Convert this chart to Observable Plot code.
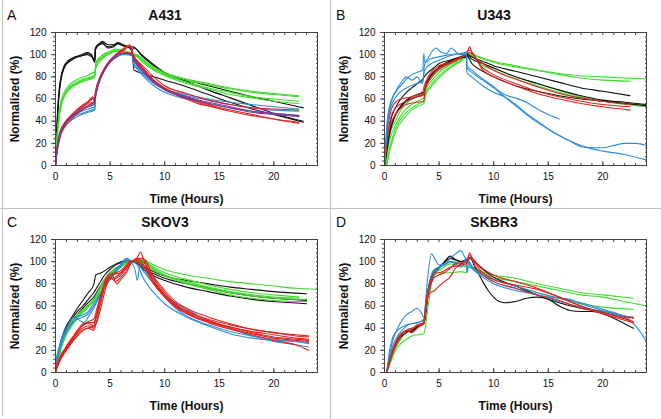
<!DOCTYPE html>
<html><head><meta charset="utf-8">
<script src="https://cdn.jsdelivr.net/npm/d3@7"></script>
<script src="https://cdn.jsdelivr.net/npm/@observablehq/plot@0.6"></script>
<style>
body{margin:0;background:#fff;font-family:"Liberation Sans",Arial,sans-serif;}
#root{position:relative;width:661px;height:419px;overflow:hidden;background:#fff;}
.cell{position:absolute;width:330px;height:209px;}
.cell svg{position:absolute;left:0;top:0;}
.title{position:absolute;left:0;top:7px;width:330px;text-align:center;font-weight:bold;font-size:14px;line-height:16px;color:#111;}
.letter{position:absolute;left:7px;top:7px;font-size:14px;line-height:16px;color:#111;}
.vl{position:absolute;background:#c4c4c4;}
g[aria-label="x-axis label"], g[aria-label="y-axis label"], g[aria-label="x-axis label"] text, g[aria-label="y-axis label"] text{font-size:12px !important;font-weight:bold !important;}
</style></head>
<body><div id="root"></div>
<script>
// ---- axis ticks ----
const xTicks = [0, 5, 10, 15, 20];
const yTicks = [0, 20, 40, 60, 80, 100, 120];
const xMinor = d3.range(0, 25, 1);
const yMinor = d3.range(0, 121, 4);
const colorHex = {black: "#111111", green: "#3fdc2c", blue: "#2a8ddd", red: "#e0231f", purple: "#85358f"};

// ---- A431 ----
const A431_black = [
 [[0,0],[0.15,40],[0.3,65],[0.5,80],[0.8,89],[1.2,93],[1.8,97],[2.4,99],[2.9,100],[3.3,98],[3.6,96],[3.65,104],[3.9,108],[4.3,110],[4.8,107],[5.3,108],[5.7,110],[6.2,108],[6.8,106],[7.0,104],[7.15,106],[8,99],[9,91],[10,84],[12,76],[14,68],[16,61],[18,54],[20,47],[22.7,40]],
 [[0,0],[0.15,35],[0.3,60],[0.5,77],[0.8,88],[1.2,94],[1.8,98],[2.4,100],[2.9,102],[3.3,100],[3.6,93],[3.65,106],[4.0,110],[4.3,112],[4.8,109],[5.3,109],[5.7,111],[6.2,109],[6.8,106],[7.0,102],[7.2,86],[8,83],[9,80],[10,77],[12,71],[14,64],[16,57],[18,51],[20,46],[22.7,39]],
 [[0,0],[0.15,38],[0.3,62],[0.5,79],[0.8,90],[1.2,95],[1.8,98],[2.4,99],[2.9,101],[3.3,99],[3.6,94],[3.65,105],[4.0,109],[4.3,111],[4.8,106],[5.3,107],[5.7,110],[6.2,108],[6.9,107],[7.1,107],[8,98],[9,90],[10,83],[12,77],[14,72],[16,67],[18,62],[20,58],[22.7,52]]
];
const A431_green = [
 [[0,0],[0.15,25],[0.3,42],[0.5,55],[0.8,63],[1.2,69],[1.7,73],[2.3,76],[2.9,78],[3.5,80],[3.6,81],[3.7,90],[4.0,95],[4.5,99],[5.0,102],[5.5,104],[6.0,104],[6.5,103],[7.0,101],[7.5,99],[8,95],[9,88],[10,83],[12,77],[14,73],[16,69],[18,66],[20,64],[22.3,62]],
 [[0,0],[0.15,28],[0.3,45],[0.5,58],[0.8,66],[1.2,72],[1.7,76],[2.3,79],[2.9,81],[3.5,84],[3.6,84],[3.7,93],[4.0,97],[4.5,101],[5.0,103],[5.5,105],[6.0,104],[6.5,102],[7.0,101],[7.5,100],[8,96],[9,89],[10,84],[12,78],[14,74],[16,70],[18,67],[20,65],[22.3,63]],
 [[0,0],[0.15,24],[0.3,40],[0.5,53],[0.8,62],[1.2,68],[1.7,72],[2.3,75],[2.9,77],[3.5,79],[3.6,80],[3.7,88],[4.0,93],[4.5,98],[5.0,101],[5.5,103],[6.0,103],[6.5,102],[7.0,100],[7.5,98],[8,94],[9,87],[10,82],[12,75],[14,70],[16,66],[18,62],[20,60],[22.3,58]],
 [[0,0],[0.15,26],[0.3,43],[0.5,56],[0.8,64],[1.2,70],[1.7,74],[2.3,77],[2.9,79],[3.5,81],[3.6,82],[3.7,91],[4.0,96],[4.5,100],[5.0,102],[5.5,103],[6.0,103],[6.5,102],[7.0,100],[7.5,98],[8,93],[9,86],[10,81],[12,74],[14,69],[16,64],[18,61],[20,58],[22.3,56]]
];
const A431_blue = [
 [[0,0],[0.15,15],[0.3,24],[0.5,30],[0.8,35],[1.2,39],[1.8,43],[2.4,46],[3.0,48],[3.6,50],[3.65,60],[4.0,75],[4.5,86],[5.0,93],[5.5,97],[6.0,100],[6.5,101],[7.0,100],[7.2,90],[7.5,87],[8,82],[9,74],[10,69],[12,64],[14,60],[16,57],[18,55],[20,53],[22.3,51]],
 [[0,0],[0.15,17],[0.3,27],[0.5,33],[0.8,38],[1.2,42],[1.8,46],[2.4,49],[3.0,51],[3.6,53],[3.65,62],[4.0,77],[4.5,88],[5.0,94],[5.5,98],[6.0,100],[6.5,100],[7.0,99],[7.2,92],[7.5,88],[8,81],[9,72],[10,66],[12,60],[14,56],[16,52],[18,49],[20,47],[22.3,45]],
 [[0,0],[0.15,16],[0.3,26],[0.5,32],[0.8,37],[1.2,41],[1.8,45],[2.4,47],[3.0,49],[3.6,51],[3.65,61],[4.0,76],[4.5,87],[5.0,94],[5.5,98],[6.0,100],[6.5,101],[7.0,100],[7.3,93],[8,84],[9,75],[10,69],[12,63],[14,59],[16,55],[18,52],[20,50],[22.3,49]]
];
const A431_red = [
 [[0,0],[0.1,12],[0.3,25],[0.5,32],[0.8,38],[1.2,43],[1.8,49],[2.4,54],[3.0,58],[3.4,62],[3.6,60],[3.65,66],[4.0,78],[4.5,88],[5.0,95],[5.5,100],[6.0,104],[6.4,107],[6.8,109],[7.0,104],[7.1,100],[8,88],[9,77],[10,70],[12,62],[14,55],[16,50],[18,46],[20,42],[22.3,38]],
 [[0,0],[0.1,10],[0.3,22],[0.5,30],[0.8,36],[1.2,41],[1.8,47],[2.4,52],[3.0,56],[3.4,60],[3.6,58],[3.65,64],[4.0,76],[4.5,87],[5.0,94],[5.5,99],[6.0,102],[6.4,105],[6.8,108],[7.0,103],[7.1,100],[8,90],[9,80],[10,72],[12,65],[14,59],[16,55],[18,52],[20,51],[22.3,50]],
 [[0,0],[0.1,11],[0.3,23],[0.5,31],[0.8,37],[1.2,42],[1.8,48],[2.4,53],[3.0,57],[3.4,61],[3.6,59],[3.65,65],[4.0,77],[4.5,87],[5.0,94],[5.5,99],[6.0,103],[6.4,106],[6.8,108],[7.0,103],[7.1,99],[8,87],[9,76],[10,69],[12,61],[14,54],[16,49],[18,45],[20,42],[22.3,39]],
 [[0,0],[0.1,9],[0.3,20],[0.5,28],[0.8,34],[1.2,39],[1.8,45],[2.4,50],[3.0,54],[3.4,57],[3.6,56],[3.65,63],[4.0,75],[4.5,86],[5.0,93],[5.5,98],[6.0,101],[6.5,102],[7.0,101],[7.2,98],[8,88],[9,77],[10,70],[11,64],[12,60],[13,56],[14.5,53]]
];
const A431_purple = [
 [[0,0],[0.1,10],[0.3,22],[0.5,30],[0.8,36],[1.2,41],[1.8,46],[2.4,50],[3.0,53],[3.5,55],[3.65,62],[4.0,76],[4.5,87],[5.0,94],[5.5,98],[6.0,101],[6.5,101],[7.0,100],[7.2,96],[8,86],[9,76],[10,69],[12,62],[14,57],[16,53],[18,49],[20,47],[22.3,45]],
 [[0,0],[0.1,11],[0.3,23],[0.5,31],[0.8,37],[1.2,42],[1.8,47],[2.4,51],[3.0,54],[3.5,57],[3.65,63],[4.0,77],[4.5,88],[5.0,95],[5.5,99],[6.0,101],[6.5,101],[7.0,100],[7.2,95],[8,85],[9,75],[10,68],[12,61],[14,56],[16,52],[18,48],[20,46],[22.3,44]]
];

// ---- U343 ----
const U343_blue = [
 [[0,0],[0.2,30],[0.4,48],[0.7,60],[1,66],[1.5,72],[2,78],[2.5,82],[3,84],[3.5,86],[3.6,101],[3.7,93],[4.2,96],[5,98],[6,100],[7,101],[7.5,100],[7.55,90],[8,86],[9,78],[10,71],[11,64],[12,61],[13,57],[14,51],[15,46],[16,42]],
 [[0,0],[0.2,35],[0.5,55],[0.8,63],[1.2,70],[1.6,76],[2,80],[2.5,77],[3,80],[3.5,74],[3.65,90],[4,97],[4.7,106],[5.2,102],[5.7,101],[6.1,106],[6.6,102],[7,100],[7.5,101],[7.55,84],[8,80],[9,72],[10,66],[11,62],[12,55],[13,47],[14,40],[15,33],[16,27],[17,22],[18,17],[19,16],[20,16],[21,18],[22,20],[23,20],[24,18]],
 [[0,0],[0.2,28],[0.5,50],[0.8,58],[1.2,64],[2,70],[3,74],[3.5,76],[3.65,85],[4,90],[5,95],[6,99],[7,101],[7.5,102],[7.55,88],[8,84],[9,77],[10,70],[11,62],[12,54],[13,46],[14,39],[15,33],[16,27],[17,22],[18,18],[19,15],[20,13],[22,10],[24,5]]
];
const U343_black = [
 [[0,0],[0.2,15],[0.5,32],[1,46],[1.5,54],[2,59],[2.5,62],[3,64],[3.6,66],[3.8,72],[4.2,80],[5,88],[6,94],[7,98],[7.6,100],[8,98],[9,94],[10,90],[12,85],[14,80],[16,75],[18,70],[20,67],[22.5,63]],
 [[0,0],[0.2,18],[0.5,38],[1,52],[1.5,60],[2,66],[2.5,70],[3,74],[3.5,78],[3.8,82],[4.5,88],[5,92],[6,95],[7,98],[7.6,99],[8,96],[9,92],[10,88],[12,80],[14,74],[16,68],[18,63],[20,59],[22,57],[24,55]],
 [[0,0],[0.2,12],[0.5,30],[1,45],[1.5,53],[2,58],[3,62],[3.6,64],[3.8,74],[4.5,84],[5,89],[6,94],[7,97],[7.6,98],[8,92],[9,85],[10,80],[12,72],[14,67],[16,63],[18,60],[20,58],[22,56],[24,54]]
];
const U343_green = [
 [[0.2,0],[0.4,12],[0.7,24],[1,33],[1.5,42],[2,48],[2.5,52],[3,55],[3.6,58],[3.8,66],[4.2,72],[5,81],[6,89],[7,95],[7.7,100],[8,100],[9,96],[10,93],[12,89],[14,86],[16,83],[18,81],[20,80],[22,79],[24,78]],
 [[0.1,0],[0.3,14],[0.6,27],[1,36],[1.5,45],[2,51],[2.5,55],[3,58],[3.6,61],[3.8,69],[4.2,75],[5,84],[6,91],[7,96],[7.7,101],[9,97],[10,94],[12,90],[14,86],[16,82],[18,79],[20,77],[22.5,76]],
 [[0.2,0],[0.4,10],[0.7,21],[1,30],[1.5,39],[2,45],[2.5,50],[3,53],[3.6,56],[3.8,64],[4.2,70],[5,79],[6,88],[7,94],[7.7,99],[9,92],[10,88],[12,80],[14,74],[16,68],[18,62],[20,58],[22,55],[24,53]],
 [[0.1,0],[0.3,18],[0.6,32],[1,40],[1.5,50],[2,56],[2.5,60],[3,63],[3.6,66],[3.8,72],[4.2,78],[5,86],[6,92],[7,97],[7.7,100],[9,90],[10,86],[12,78],[14,72],[16,66],[18,61],[20,58],[22,56],[24,54]]
];
const U343_red = [
 [[0,0],[0.1,15],[0.3,35],[0.6,50],[1,57],[1.5,60],[2,61],[2.5,62],[3,64],[3.5,67],[3.65,72],[4,80],[5,90],[6,93],[7,98],[7.5,100],[7.8,107],[8,102],[9,92],[10,86],[12,78],[14,71],[16,65],[18,61],[20,58],[22.5,55]],
 [[0,0],[0.2,18],[0.5,35],[1,46],[1.5,52],[2,55],[3,57],[3.6,58],[3.7,68],[4.2,78],[5,87],[6,92],[7,97],[7.8,102],[9,88],[10,82],[12,74],[14,67],[16,62],[18,58],[20,55],[22.5,53]],
 [[0,0],[0.2,20],[0.5,40],[1,52],[2,58],[3,62],[3.6,64],[3.8,75],[4.5,85],[5,88],[6,93],[7,98],[7.8,104],[9,86],[10,80],[12,72],[14,65],[16,60],[18,56],[20,53],[22.5,50]]
];

// ---- SKOV3 ----
const SKOV3_black = [
 [[0,5],[0.3,20],[0.6,32],[1,42],[1.5,50],[2,58],[2.5,65],[3,72],[3.5,79],[3.7,88],[4.2,90],[5,95],[6,100],[6.5,101],[7,100],[7.5,99],[8,96],[9,91],[10,87],[12,83],[14,80],[16,77],[18,75],[20,73],[23,71]],
 [[0,3],[0.3,18],[0.6,30],[1,40],[1.5,48],[2,55],[2.5,60],[3,66],[3.5,72],[4,80],[4.5,88],[5,93],[6,99],[7,100],[7.5,99],[8,94],[9,89],[10,85],[12,80],[14,76],[16,72],[18,69],[20,67],[23,65]],
 [[0,0],[0.3,15],[0.6,27],[1,37],[1.5,45],[2,52],[2.5,58],[3,63],[3.5,68],[4,76],[4.5,84],[5,90],[6,97],[7,100],[7.5,98],[8,93],[9,87],[10,83],[12,77],[14,73],[16,69],[18,66],[20,64],[23,62]]
];
const SKOV3_green = [
 [[0,0],[0.3,15],[0.6,25],[1,35],[1.5,43],[2,50],[2.5,55],[3,60],[3.5,65],[4,74],[4.5,82],[5,88],[6,96],[7,100],[7.5,101],[8,102],[8.5,100],[9,97],[10,93],[12,88],[14,85],[16,82],[18,80],[20,78],[22,76],[24,75]],
 [[0,2],[0.3,17],[0.6,28],[1,38],[1.5,46],[2,52],[2.5,57],[3,61],[3.5,66],[4,75],[4.5,84],[5,90],[6,97],[7,100],[8,101],[9,95],[10,90],[12,84],[14,79],[16,75],[18,72],[20,70],[22.3,68]],
 [[0,0],[0.3,13],[0.6,24],[1,34],[1.5,42],[2,49],[2.5,54],[3,59],[3.5,64],[4,72],[4.5,80],[5,87],[6,95],[7,100],[8,100],[9,94],[10,88],[12,81],[14,76],[16,72],[18,69],[20,67],[23,66]],
 [[0,1],[0.3,16],[0.6,27],[1,37],[1.5,45],[2,51],[2.5,56],[3,60],[3.5,64],[4,73],[4.5,82],[5,89],[6,96],[7,100],[8,99],[9,92],[10,87],[12,80],[14,75],[16,70],[18,67],[20,65],[23,64]],
 [[0,0],[0.3,14],[0.6,26],[1,36],[1.5,44],[2,50],[2.5,55],[3,60],[3.5,65],[4,74],[4.5,83],[5,89],[6,97],[7,101],[8,100],[9,93],[10,88],[12,82],[14,77],[16,73],[18,70],[20,68],[22.3,67]]
];
const SKOV3_blue = [
 [[0,10],[0.3,22],[0.6,32],[1,40],[1.4,47],[1.8,50],[2.2,47],[2.6,45],[3,50],[3.5,58],[4,68],[4.5,78],[5,86],[5.5,92],[6,98],[6.5,103],[7,99],[7.3,92],[7.5,83],[7.7,95],[7.9,97],[8.2,92],[9,80],[10,68],[11,58],[12,51],[14,43],[16,37],[18,33],[20,30],[22,28],[23.2,26]],
 [[0,5],[0.3,18],[0.6,28],[1,37],[1.5,44],[2,50],[2.5,52],[3,55],[3.5,62],[4,70],[5,84],[6,96],[6.5,102],[7,100],[7.5,99],[8,92],[9,80],[10,70],[12,57],[14,47],[16,40],[18,33],[20,28],[22,25],[23.2,23]],
 [[0,8],[0.3,20],[0.6,30],[1,38],[1.5,45],[2,48],[2.5,50],[3,53],[3.5,60],[4,69],[5,85],[6,97],[6.5,101],[7,100],[7.5,97],[8,86],[9,72],[10,62],[12,50],[14,42],[16,35],[18,31],[20,29],[22,28],[23.2,27]]
];
const SKOV3_red = [
 [[0,5],[0.3,12],[0.6,18],[1,22],[1.5,28],[2,33],[2.5,38],[3,40],[3.5,42],[3.7,50],[4,62],[4.5,80],[5,86],[5.5,82],[6,86],[6.5,92],[7,100],[7.5,104],[7.8,109],[8,104],[8.5,92],[9,82],[10,70],[11,61],[12,55],[14,48],[16,43],[18,39],[20,36],[22,33],[23.2,32]],
 [[0,0],[0.3,10],[0.6,16],[1,22],[1.5,30],[2,37],[2.5,44],[3,44],[3.5,42],[3.8,55],[4.2,70],[4.7,83],[5.2,88],[5.6,80],[6,84],[6.5,90],[7,100],[7.5,103],[8,103],[8.3,100],[9,85],[10,72],[11,62],[12,56],[14,47],[16,41],[18,36],[20,32],[22,30],[23.2,29]],
 [[0,0],[0.3,8],[0.6,14],[1,20],[1.5,27],[2,33],[2.5,38],[3,40],[3.5,38],[3.8,48],[4.2,65],[4.6,80],[5,85],[5.5,85],[6,88],[6.5,95],[7,101],[7.5,99],[8,96],[9,80],[10,68],[11,59],[12,53],[14,45],[16,39],[18,34],[20,29],[22,25],[23.2,20]],
 [[0,3],[0.3,11],[0.6,17],[1,23],[1.5,30],[2,36],[2.5,42],[3,45],[3.5,45],[3.8,52],[4.2,68],[4.6,82],[5,87],[5.5,89],[6,90],[6.5,94],[7,100],[7.5,102],[8,100],[9,86],[10,74],[11,64],[12,58],[14,50],[16,44],[18,39],[20,36],[22,34],[23.2,33]],
 [[0,0],[0.3,9],[0.6,15],[1,21],[1.5,29],[2,35],[2.5,40],[3,42],[3.5,40],[3.8,46],[4.2,60],[4.6,76],[5,84],[5.5,86],[6,90],[6.5,96],[7,100],[7.5,101],[8,98],[9,83],[10,70],[11,60],[12,54],[14,46],[16,40],[18,35],[20,31],[22,29],[23.2,28]],
 [[0,2],[0.3,10],[0.6,17],[1,24],[1.5,31],[2,38],[2.5,43],[3,46],[3.5,48],[3.8,58],[4.2,72],[4.6,84],[5,89],[5.5,90],[6,92],[6.5,97],[7,101],[7.5,100],[8,97],[9,82],[10,69],[11,60],[12,54],[14,46],[16,41],[18,37],[20,34],[22,31],[23.2,30]]
];

// ---- SKBR3 ----
const SKBR3_blue = [
 [[0.2,0],[0.5,18],[0.8,30],[1.2,40],[1.6,47],[2,52],[2.5,55],[3,58],[3.3,55],[3.6,50],[3.9,80],[4.3,107],[4.6,103],[5,97],[5.5,98],[6,103],[6.5,107],[7,110],[7.3,105],[7.6,100],[8,94],[9,88],[10,84],[12,78],[14,72],[16,67],[18,63],[20,57],[22,50],[23,42],[24,28]],
 [[0.2,0],[0.5,15],[0.8,25],[1.2,33],[1.6,38],[2,42],[2.5,44],[3,45],[3.6,48],[4,75],[4.5,92],[5,95],[5.5,97],[6,100],[6.5,98],[7,95],[7.5,103],[8,96],[9,88],[10,82],[12,76],[14,70],[16,67],[17,66],[18,62],[20,56],[22.5,50]],
 [[0.2,0],[0.5,22],[0.8,33],[1.2,38],[1.8,42],[2.4,44],[3,45],[3.6,47],[4,72],[4.5,88],[5,94],[6,100],[7,98],[7.5,97],[7.6,90],[7.7,100],[8,95],[9,86],[10,80],[12,74],[14,70],[16,64],[18,59],[20,55],[22.5,48]]
];
const SKBR3_black = [
 [[0.2,0],[0.6,14],[1,24],[1.5,32],[2,36],[2.5,38],[3,41],[3.6,45],[4,75],[4.5,92],[5,95],[5.5,100],[6,105],[6.5,102],[7,100],[7.5,101],[7.8,104],[8.3,95],[9,82],[9.5,74],[10,68],[10.5,64],[11,63],[12,64],[13,67],[14,68],[15,66],[16,60],[17,56],[18,55],[19,55],[20,53],[21,49],[22,44],[22.8,40]],
 [[0.2,0],[0.6,15],[1,26],[1.5,34],[2,37],[2.5,37],[3,41],[3.6,44],[4,70],[4.5,88],[5,94],[6,103],[7,100],[7.8,103],[9,93],[10,86],[12,78],[14,70],[16,63],[18,58],[20,55],[22.8,49]]
];
const SKBR3_green = [
 [[0.2,0],[0.6,10],[1,20],[1.5,26],[2,30],[2.5,33],[3,34],[3.6,35],[4,60],[4.3,80],[4.6,88],[5,90],[6,90],[7,91],[7.5,90],[7.6,100],[8,96],[9,91],[10,88],[12,85],[14,80],[16,76],[18,72],[20,70],[22.8,67]],
 [[0.2,0],[0.6,12],[1,22],[1.5,30],[2,36],[2.5,40],[3,42],[3.6,44],[4,70],[4.5,90],[5,95],[6,100],[7,98],[7.5,95],[8,95],[9,90],[10,86],[12,82],[14,78],[16,74],[18,70],[20,68],[22,64],[24,60]],
 [[0.2,0],[0.6,14],[1,24],[1.5,33],[2,38],[2.5,40],[3,42],[3.6,45],[4,72],[4.5,90],[5,92],[6,98],[7,96],[7.5,96],[8,94],[9,88],[10,84],[12,78],[14,72],[16,67],[18,62],[20,59],[22.8,57]]
];
const SKBR3_red = [
 [[0.2,0],[0.6,15],[1,25],[1.5,33],[2,38],[2.5,40],[3,42],[3.6,44],[3.8,60],[4.2,72],[4.6,74],[5,78],[5.5,82],[6,86],[6.5,94],[7,97],[7.5,98],[7.8,108],[8,104],[9,94],[10,88],[12,82],[14,76],[16,68],[18,60],[20,54],[22,50],[22.8,50]],
 [[0.2,0],[0.6,13],[1,24],[1.5,34],[2,38],[2.5,36],[3,40],[3.6,46],[3.8,65],[4.2,82],[4.6,90],[5,90],[5.5,92],[6,95],[6.5,96],[7,98],[7.5,100],[7.8,106],[8.3,96],[9,88],[10,82],[12,76],[14,70],[16,65],[18,58],[20,54],[22.8,46]],
 [[0.2,0],[0.6,16],[1,27],[1.5,35],[2,37],[2.5,39],[3,43],[3.6,45],[3.8,62],[4.2,78],[4.6,86],[5,88],[5.5,90],[6,94],[6.5,98],[7,99],[7.5,99],[7.8,103],[9,90],[10,84],[12,79],[14,75],[16,68],[18,60],[20,53],[22.8,45]]
];

const panels = [
  {title: "A431", letter: "A", left: 0, top: 0, series: {black: A431_black, green: A431_green, blue: A431_blue, red: A431_red, purple: A431_purple}},
  {title: "U343", letter: "B", left: 329, top: 0, series: {green: U343_green, black: U343_black, red: U343_red, blue: U343_blue}},
  {title: "SKOV3", letter: "C", left: 0, top: 207, series: {black: SKOV3_black, green: SKOV3_green, blue: SKOV3_blue, red: SKOV3_red}},
  {title: "SKBR3", letter: "D", left: 329, top: 207, series: {green: SKBR3_green, black: SKBR3_black, blue: SKBR3_blue, red: SKBR3_red}}
];

const root = document.getElementById("root");
const blank = () => "";
for (const p of panels) {
  const rows = [];
  for (const [color, lines] of Object.entries(p.series)) {
    lines.forEach((ln, i) => ln.forEach(([t, v]) => rows.push({id: color + i, color: colorHex[color], t, v})));
  }
  const chart = Plot.plot({
    width: 330, height: 209,
    marginLeft: 55, marginRight: 13, marginTop: 32, marginBottom: 44,
    x: {domain: [0, 24]},
    y: {domain: [0, 120]},
    color: {type: "identity"},
    style: {fontFamily: "'Liberation Sans', Arial, sans-serif", fontSize: "10px", color: "#111", background: "transparent"},
    marks: [
      Plot.line(rows, {x: "t", y: "v", z: "id", stroke: "color", curve: "monotone-x", strokeWidth: 1.1}),
      Plot.frame({stroke: "#444"}),
      Plot.axisX(xMinor, {anchor: "bottom", tickSize: -2, tickFormat: blank, label: null, stroke: "#444"}),
      Plot.axisX(xTicks, {anchor: "bottom", tickSize: -4, tickFormat: blank, label: null, stroke: "#444"}),
      Plot.axisX(xMinor, {anchor: "top", tickSize: -2, tickFormat: blank, label: null, stroke: "#444"}),
      Plot.axisX(xTicks, {anchor: "bottom", tickSize: 0, tickPadding: 7, label: "Time (Hours)", labelAnchor: "center", labelArrow: "none", labelOffset: 37}),
      Plot.axisY(yMinor, {anchor: "left", tickSize: 2, tickFormat: blank, label: null, stroke: "#444"}),
      Plot.axisY(yTicks, {anchor: "left", tickSize: 4, tickPadding: 5, label: "Normalized (%)", labelAnchor: "center", labelArrow: "none", labelOffset: 45, stroke: "#444"}),
      Plot.axisY(yMinor, {anchor: "right", tickSize: -2, tickFormat: blank, label: null, stroke: "#444"})
    ]
  });
  const cell = document.createElement("div");
  cell.className = "cell";
  cell.style.left = p.left + "px";
  cell.style.top = p.top + "px";
  cell.appendChild(chart);
  const t = document.createElement("div"); t.className = "title"; t.textContent = p.title; cell.appendChild(t);
  const l = document.createElement("div"); l.className = "letter"; l.textContent = p.letter; cell.appendChild(l);
  root.appendChild(cell);
}
// axis title styling
for (const g of root.querySelectorAll('g[aria-label="x-axis label"], g[aria-label="y-axis label"]')) {
  g.style.fontSize = "12px";
  g.style.fontWeight = "bold";
  for (const tx of g.querySelectorAll("text")) { tx.style.fontSize = "12px"; tx.style.fontWeight = "bold"; }
}
// panel dividers
const divs = [
  {left: 330, top: 0, width: 1, height: 419},
  {left: 0, top: 208, width: 661, height: 1},
  {left: 2, top: 0, width: 1, height: 416}
];
for (const d of divs) {
  const e = document.createElement("div"); e.className = "vl";
  Object.assign(e.style, {left: d.left + "px", top: d.top + "px", width: d.width + "px", height: d.height + "px"});
  root.appendChild(e);
}
</script></body></html>
